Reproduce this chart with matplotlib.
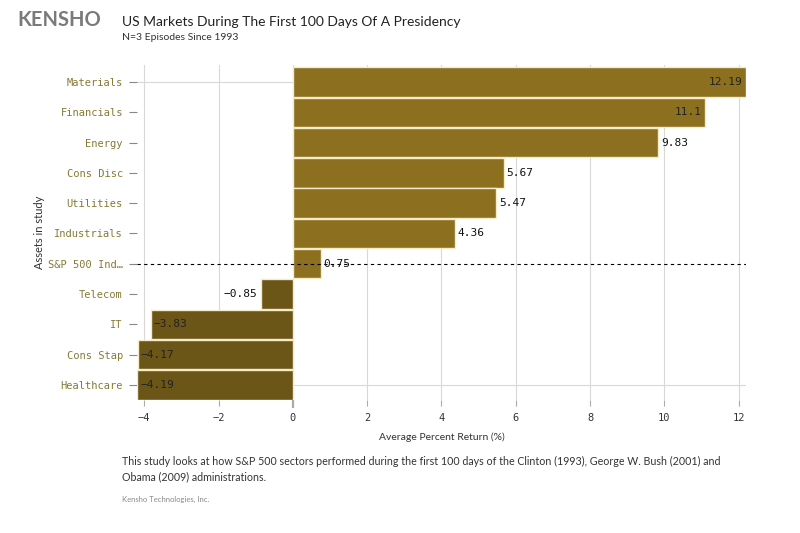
import numpy as np
import matplotlib
matplotlib.use('Agg')
import matplotlib.pyplot as plt

# data
sectors = ['Materials', 'Financials', 'Energy', 'Cons Disc', 'Utilities', 'Industrials',
           'S&P 500 Ind…', 'Telecom', 'IT', 'Cons Stap', 'Healthcare']
returns = [12.19, 11.1, 9.83, 5.67, 5.47, 4.36, 0.75, -0.85, -3.83, -4.17, -4.19]
value_labels = ['12.19', '11.1', '9.83', '5.67', '5.47', '4.36', '0.75', '−0.85', '−3.83', '−4.17', '−4.19']
xticks = [-4, -2, 0, 2, 4, 6, 8, 10, 12]

pos_color = '#8c701f'
neg_color = '#6b5618'
label_color = '#857a35'
mono = 'DejaVu Sans Mono'
sans = ['Lato', 'DejaVu Sans']

fig = plt.figure(figsize=(8, 5.33), dpi=100)
ax = fig.add_axes([0.171, 0.2495, 0.7617, 0.628])

y = np.arange(len(sectors))
colors = [pos_color if v >= 0 else neg_color for v in returns]
ax.barh(y, returns, height=0.97, color=colors, edgecolor='#f4ecc8', linewidth=1, zorder=3)

ax.set_xlim(-4.2, 12.2)
ax.set_ylim(len(sectors) - 0.5, -0.55)

# grid
for t in xticks:
    ax.axvline(t, color='#d8d8d8', lw=0.8, zorder=0)
ax.axhline(0, color='#d8d8d8', lw=0.8, zorder=0)
ax.axhline(len(sectors) - 1, color='#d8d8d8', lw=0.8, zorder=0)
sp = sectors.index('S&P 500 Ind…')
ax.axhline(sp, color='black', lw=0.8, ls=(0, (3, 3)), zorder=4)

for s in ax.spines.values():
    s.set_visible(False)

ax.set_yticks(y)
ax.set_yticklabels(sectors, fontfamily=mono, fontsize=7.5, color=label_color)
ax.tick_params(axis='y', length=6, width=0.8, color='#888888', pad=4)
ax.set_xticks(xticks)
ax.set_xticklabels([str(t).replace('-', '−') for t in xticks], fontfamily=mono, fontsize=7.5, color='#333333')
ax.tick_params(axis='x', length=4, width=0.8, color='#aaaaaa', pad=5)
zero_tick = ax.get_xticklines()[4]
zero_tick.set_color('black')
zero_tick.set_markeredgewidth(1.6)
zero_tick.set_markersize(6)

ax.set_xlabel('Average Percent Return (%)', fontfamily=sans, fontsize=7.5, color='#333333', labelpad=7)
ax.set_ylabel('Assets in study', fontfamily=sans, fontsize=8, color='#333333', labelpad=2)

# value labels
for i, (v, lab) in enumerate(zip(returns, value_labels)):
    if v >= 10:
        ax.text(v - 0.1, i, lab, ha='right', va='center', fontfamily=mono, fontsize=8, color='#222222', zorder=5)
    elif v >= 0:
        ax.text(v + 0.08, i, lab, ha='left', va='center', fontfamily=mono, fontsize=8, color='#111111', zorder=5)
    elif v > -2:
        ax.text(v - 0.1, i, lab, ha='right', va='center', fontfamily=mono, fontsize=8, color='#111111', zorder=5)
    else:
        ax.text(v + 0.08, i, lab, ha='left', va='center', fontfamily=mono, fontsize=8, color='#222222', zorder=5)

# header and footer
fig.text(0.022, 0.962, 'KENSHO', fontfamily=sans, fontsize=14.5, fontweight='bold', color='#7a7a7a', va='center')
fig.text(0.152, 0.958, 'US Markets During The First 100 Days Of A Presidency', fontfamily=sans,
         fontsize=10, color='#222222', va='center')
fig.text(0.152, 0.929, 'N=3 Episodes Since 1993', fontfamily=sans, fontsize=7.5, color='#333333', va='center')
fig.text(0.152, 0.12, 'This study looks at how S&P 500 sectors performed during the first 100 days of the Clinton (1993), '
         'George W. Bush (2001) and\nObama (2009) administrations.', fontfamily=sans, fontsize=7.7,
         color='#333333', va='center', linespacing=1.5)
fig.text(0.152, 0.062, 'Kensho Technologies, Inc.', fontfamily=sans, fontsize=5.5, color='#888888', va='center')

fig.savefig('out.png', dpi=100, facecolor='white')
